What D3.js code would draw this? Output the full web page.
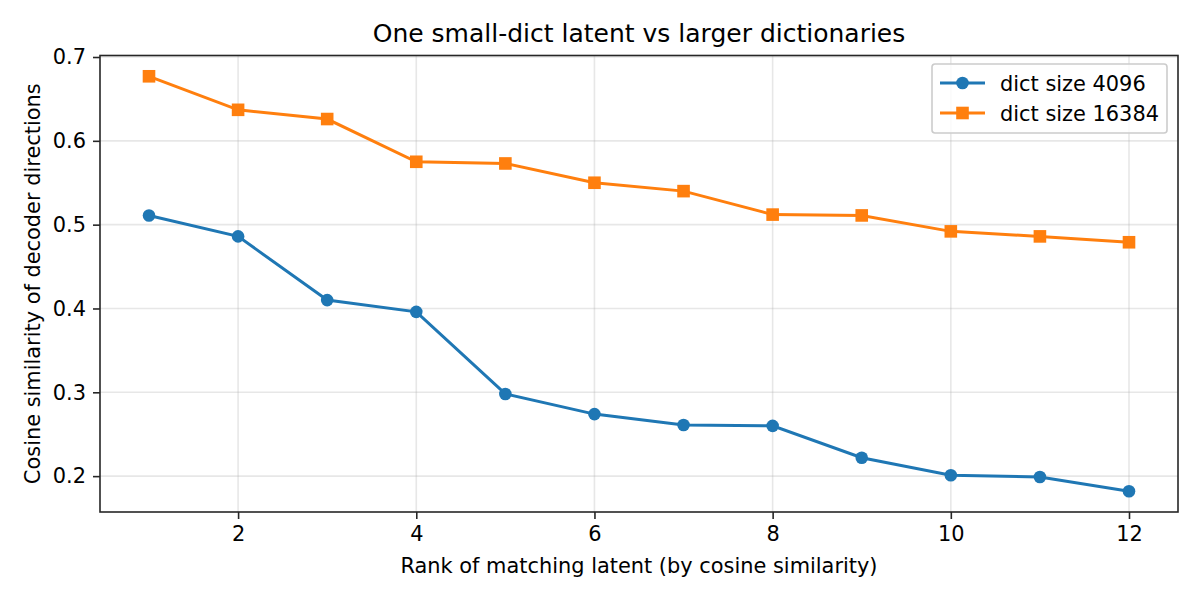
<!DOCTYPE html>
<html>
<head>
<meta charset="utf-8">
<script src="https://cdn.jsdelivr.net/npm/d3@7"></script>
<style>
  body { margin: 0; background: #fff; }
  svg { font-family: "DejaVu Sans", sans-serif; }
</style>
</head>
<body>
<svg id="chart" width="1200" height="600"></svg>
<script>
// data
var ranks = [1, 2, 3, 4, 5, 6, 7, 8, 9, 10, 11, 12];
var small_dict = [0.511, 0.486, 0.410, 0.396, 0.298, 0.274, 0.261, 0.260, 0.222, 0.201, 0.199, 0.182];
var big_dict = [0.677, 0.637, 0.626, 0.575, 0.573, 0.550, 0.540, 0.512, 0.511, 0.492, 0.486, 0.479];
var series_names = ["dict size 4096", "dict size 16384"];
var x_ticks = [2, 4, 6, 8, 10, 12];
var y_ticks = [0.2, 0.3, 0.4, 0.5, 0.6, 0.7];

var pl = 100, pr = 1178, pt = 55.5, pb = 512;
var fs = "20.9px";
var svg = d3.select("#chart");

var x = d3.scaleLinear().domain([0.45, 12.55]).range([pl, pr]);
var y = d3.scaleLinear().domain([0.1572, 0.7018]).range([pb, pt]);

// grid
svg.append("g").selectAll("line").data(x_ticks).enter().append("line")
  .attr("x1", d => x(d)).attr("x2", d => x(d))
  .attr("y1", pt).attr("y2", pb)
  .style("stroke", "#b0b0b0").style("stroke-opacity", 0.3).style("stroke-width", 1.6);
svg.append("g").selectAll("line").data(y_ticks).enter().append("line")
  .attr("x1", pl).attr("x2", pr)
  .attr("y1", d => y(d)).attr("y2", d => y(d))
  .style("stroke", "#b0b0b0").style("stroke-opacity", 0.3).style("stroke-width", 1.6);

// axes
var xAxis = svg.append("g").attr("transform", "translate(0," + pb + ")")
  .call(d3.axisBottom(x).tickValues(x_ticks).tickSize(7).tickPadding(7).tickFormat(d3.format("d")));
var yAxis = svg.append("g").attr("transform", "translate(" + pl + ",0)")
  .call(d3.axisLeft(y).tickValues(y_ticks).tickSize(7).tickPadding(7).tickFormat(d3.format(".1f")));
[xAxis, yAxis].forEach(function(a) {
  a.select(".domain").remove();
  a.selectAll(".tick line").style("stroke", "#262626").style("stroke-width", 1.6);
  a.selectAll(".tick text").style("font-size", fs).style("fill", "#000")
    .style("font-family", "DejaVu Sans, sans-serif");
});

// frame
svg.append("rect").attr("x", pl).attr("y", pt)
  .attr("width", pr - pl).attr("height", pb - pt)
  .style("fill", "none").style("stroke", "#262626").style("stroke-width", 1.6);

var colors = ["#1f77b4", "#ff7f0e"];
var all = [small_dict, big_dict];
var line = d3.line().x((d, i) => x(ranks[i])).y(d => y(d));

all.forEach(function(vals, k) {
  svg.append("path").datum(vals).attr("d", line)
    .style("fill", "none").style("stroke", colors[k]).style("stroke-width", 3);
  if (k == 0) {
    svg.append("g").selectAll("circle").data(vals).enter().append("circle")
      .attr("cx", (d, i) => x(ranks[i])).attr("cy", d => y(d)).attr("r", 6.3)
      .style("fill", colors[k]);
  } else {
    svg.append("g").selectAll("rect").data(vals).enter().append("rect")
      .attr("x", (d, i) => x(ranks[i]) - 6.3).attr("y", d => y(d) - 6.3)
      .attr("width", 12.6).attr("height", 12.6)
      .style("fill", colors[k]);
  }
});

// titles
svg.append("text").attr("x", (pl + pr) / 2).attr("y", 42)
  .attr("text-anchor", "middle").style("font-size", "25px").text("One small-dict latent vs larger dictionaries");
svg.append("text").attr("x", (pl + pr) / 2).attr("y", 573)
  .attr("text-anchor", "middle").style("font-size", fs).text("Rank of matching latent (by cosine similarity)");
svg.append("text").attr("transform", "translate(40," + ((pt + pb) / 2) + ") rotate(-90)")
  .attr("text-anchor", "middle").style("font-size", fs).text("Cosine similarity of decoder directions");

// legend
var lg = svg.append("g").attr("transform", "translate(932,64)");
lg.append("rect").attr("width", 235).attr("height", 69).attr("rx", 3)
  .style("fill", "#fff").style("fill-opacity", 0.8).style("stroke", "#cccccc").style("stroke-width", 1.6);
series_names.forEach(function(name, k) {
  var cy = 19 + k * 30;
  lg.append("line").attr("x1", 8).attr("x2", 53).attr("y1", cy).attr("y2", cy)
    .style("stroke", colors[k]).style("stroke-width", 3);
  if (k == 0) {
    lg.append("circle").attr("cx", 30.5).attr("cy", cy).attr("r", 6.3).style("fill", colors[k]);
  } else {
    lg.append("rect").attr("x", 24.2).attr("y", cy - 6.3).attr("width", 12.6).attr("height", 12.6).style("fill", colors[k]);
  }
  lg.append("text").attr("x", 68).attr("y", cy + 7.5).style("font-size", fs).text(name);
});
</script>
</body>
</html>
